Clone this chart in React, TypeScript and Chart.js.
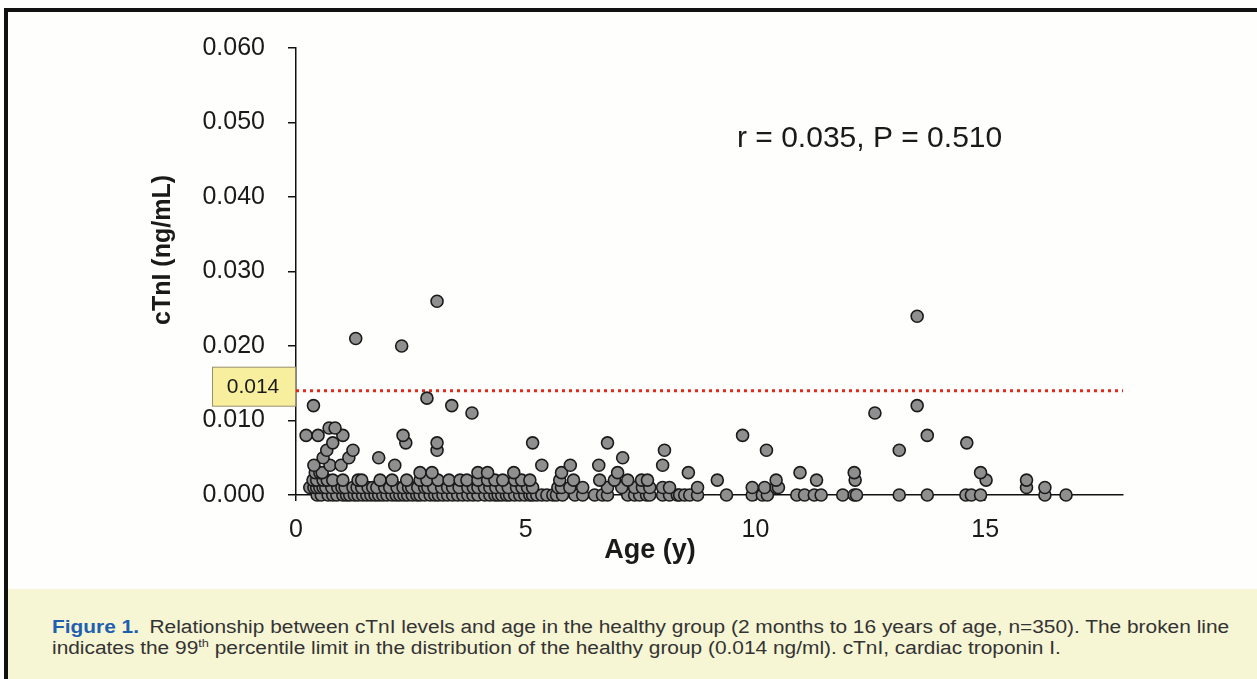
import { useEffect, useRef } from "react";
import { Chart, registerables } from "chart.js";

Chart.register(...registerables);

// ---- Data ----
const xTicks = [0, 5, 10, 15];
const xMax = 18;
const yTicks = [0, 0.01, 0.02, 0.03, 0.04, 0.05, 0.06];
const cutoffValue = 0.014;
const cutoffLabel = "0.014";
const statsText = "r = 0.035, P = 0.510";
const xTitle = "Age (y)";
const yTitle = "cTnI (ng/mL)";

// ages (years) of the children at each cTnI level (ng/mL)
const agesAt0000 = [0.46, 0.55, 0.7, 0.8, 0.89, 1.02, 1.1, 1.17, 1.27, 1.35, 1.45, 1.54, 1.63, 1.72, 1.8, 1.89, 1.98, 2.09, 2.18, 2.26, 2.35, 2.43, 2.53, 2.63, 2.7, 2.8, 2.92, 3.02, 3.1, 3.2, 3.3, 3.41, 3.52, 3.63, 3.74, 3.85, 3.96, 4.11, 4.22, 4.33, 4.4, 4.48, 4.58, 4.65, 4.76, 4.87, 4.98, 5.09, 5.15, 5.24, 5.35, 5.46, 5.59, 5.67, 5.8, 6.07, 6.24, 6.5, 6.67, 6.78, 7.22, 7.37, 7.48, 7.63, 7.7, 7.98, 8.13, 8.3, 8.35, 8.46, 8.57, 8.74, 9.37, 9.93, 10.15, 10.26, 10.9, 11.07, 11.28, 11.43, 11.9, 12.15, 12.2, 13.13, 13.74, 14.58, 14.7, 14.9, 16.3, 16.76];
const agesAt0001 = [0.3, 0.39, 0.45, 0.52, 0.59, 0.65, 0.78, 0.91, 1.0, 1.07, 1.24, 1.33, 1.43, 1.57, 1.67, 1.76, 1.93, 2.04, 2.2, 2.33, 2.45, 2.52, 2.65, 2.8, 2.87, 3.0, 3.17, 3.3, 3.41, 3.55, 3.74, 3.86, 3.96, 4.1, 4.22, 4.35, 4.48, 4.62, 4.8, 4.92, 5.04, 5.15, 5.7, 5.78, 5.96, 6.24, 6.78, 7.09, 7.37, 7.54, 7.7, 7.98, 8.13, 8.74, 9.93, 10.2, 10.45, 10.5, 15.9, 16.3];
const agesAt0002 = [0.37, 0.45, 0.59, 0.68, 0.8, 1.02, 1.35, 1.43, 1.83, 2.09, 2.41, 2.7, 2.85, 3.09, 3.33, 3.57, 3.72, 3.96, 4.17, 4.33, 4.5, 4.76, 4.91, 5.09, 5.74, 6.04, 6.61, 6.93, 7.22, 7.52, 7.65, 9.17, 10.45, 11.33, 12.17, 15.02, 15.9];
const agesAt0003 = [0.42, 0.52, 0.57, 2.7, 2.96, 3.96, 4.17, 4.74, 5.78, 7.0, 8.54, 10.97, 12.15, 14.9];
const agesAt0004 = [0.39, 0.74, 0.98, 2.15, 5.35, 5.97, 6.59, 7.98];
const agesAt0005 = [0.59, 1.15, 1.8, 7.11];
const agesAt0006 = [0.67, 1.24, 3.07, 8.02, 10.24, 13.13];
const agesAt0007 = [0.8, 2.39, 3.07, 5.15, 6.78, 14.6];
const agesAt0008 = [0.22, 0.48, 1.02, 2.33, 9.72, 13.74];
const agesAt0009 = [0.72, 0.85];
const agesAt0011 = [3.83, 12.6];
const agesAt0012 = [0.38, 3.39, 13.52];
const agesAt0013 = [2.85];
const agesAt0020 = [2.3];
const agesAt0021 = [1.3];
const agesAt0024 = [13.52];
const agesAt0026 = [3.07];

const levels: [number, number[]][] = [
  [0.0, agesAt0000],
  [0.001, agesAt0001],
  [0.002, agesAt0002],
  [0.003, agesAt0003],
  [0.004, agesAt0004],
  [0.005, agesAt0005],
  [0.006, agesAt0006],
  [0.007, agesAt0007],
  [0.008, agesAt0008],
  [0.009, agesAt0009],
  [0.011, agesAt0011],
  [0.012, agesAt0012],
  [0.013, agesAt0013],
  [0.02, agesAt0020],
  [0.021, agesAt0021],
  [0.024, agesAt0024],
  [0.026, agesAt0026],
];

const FONT = '"Liberation Sans", Arial, Helvetica, sans-serif';

const overlayPlugin = {
  id: "overlay",
  afterDraw(chart: any) {
    const ctx = chart.ctx as CanvasRenderingContext2D;
    const ys = chart.scales.y;
    const yc = ys.getPixelForValue(cutoffValue);
    ctx.save();
    // 0.014 label box
    ctx.fillStyle = "#f8ef9e";
    ctx.strokeStyle = "#9a9070";
    ctx.lineWidth = 1;
    ctx.fillRect(212.5, yc - 23.5, 83, 39);
    ctx.strokeRect(212.5, yc - 23.5, 83, 39);
    ctx.fillStyle = "#1a1a1a";
    ctx.font = `21px ${FONT}`;
    ctx.textAlign = "center";
    ctx.textBaseline = "middle";
    ctx.fillText(cutoffLabel, 253, yc - 3);
    // statistics
    ctx.font = `30px ${FONT}`;
    ctx.textAlign = "left";
    ctx.fillText(statsText, 737, 139);
    // y title
    ctx.save();
    ctx.translate(163, 250);
    ctx.rotate(-Math.PI / 2);
    ctx.font = `bold 25px ${FONT}`;
    ctx.textAlign = "center";
    ctx.fillText(yTitle, 0, 0);
    ctx.restore();
    // x title
    ctx.font = `bold 27px ${FONT}`;
    ctx.textAlign = "center";
    ctx.fillText(xTitle, 650, 551);
    ctx.restore();
  },
};

export default function App() {
  const ref = useRef<HTMLCanvasElement | null>(null);

  useEffect(() => {
    if (!ref.current) return;
    const points = levels.flatMap(([v, ages]) => ages.map((a) => ({ x: a, y: v })));
    const chart = new Chart(ref.current, {
      type: "scatter",
      data: {
        datasets: [
          {
            label: "cTnI",
            data: points,
            backgroundColor: "#8f8f8f",
            borderColor: "#1a1a1a",
            borderWidth: 1.6,
            pointRadius: 6,
            clip: false,
            order: 0,
          } as any,
          {
            type: "line",
            label: "99th percentile",
            data: [
              { x: 0, y: cutoffValue },
              { x: xMax, y: cutoffValue },
            ],
            borderColor: "#e4281c",
            borderWidth: 3,
            borderDash: [3, 4],
            pointRadius: 0,
            fill: false,
            order: 1,
          } as any,
        ],
      },
      options: {
        animation: false,
        responsive: false,
        layout: { padding: { left: 0, top: 48, right: 134, bottom: 124 } },
        plugins: { legend: { display: false }, tooltip: { enabled: false } },
        scales: {
          x: {
            type: "linear",
            min: 0,
            max: xMax,
            afterBuildTicks: (s: any) => {
              s.ticks = xTicks.map((v) => ({ value: v }));
            },
            afterFit: (s: any) => {
              s.height = 60;
            },
            grid: { drawOnChartArea: false, drawTicks: true, tickLength: 6, color: "#111", lineWidth: 1.5 },
            border: { display: true, color: "#111", width: 1.5 },
            ticks: { font: { size: 25, family: FONT }, color: "#1a1a1a", padding: 14, maxRotation: 0 },
          },
          y: {
            type: "linear",
            min: 0,
            max: 0.06,
            afterBuildTicks: (s: any) => {
              s.ticks = yTicks.map((v) => ({ value: v }));
            },
            afterFit: (s: any) => {
              s.width = 296;
            },
            grid: { drawOnChartArea: false, drawTicks: true, tickLength: 8, color: "#111", lineWidth: 1.5 },
            border: { display: true, color: "#111", width: 1.5 },
            ticks: {
              font: { size: 25, family: FONT },
              color: "#1a1a1a",
              padding: 23,
              callback: (v: any) => Number(v).toFixed(3),
            },
          },
        },
      },
      plugins: [overlayPlugin],
    });
    return () => chart.destroy();
  }, []);

  const lineStyle: React.CSSProperties = {
    position: "absolute",
    left: 44,
    whiteSpace: "nowrap",
    fontSize: 18,
    lineHeight: "20px",
    color: "#333",
    transform: "scaleX(1.16)",
    transformOrigin: "left center",
  };

  return (
    <div style={{ position: "fixed", left: 0, top: 0, width: 1257, height: 679, background: "#fefefc", overflow: "hidden", fontFamily: FONT }}>
      <canvas ref={ref} width={1257} height={679} style={{ position: "absolute", left: 0, top: 0, width: 1257, height: 679 }} />
      {/* frame */}
      <div style={{ position: "absolute", left: 4, top: 8, width: 1260, height: 4, background: "#111" }} />
      <div style={{ position: "absolute", left: 4, top: 8, width: 4, height: 680, background: "#111" }} />
      {/* caption */}
      <div style={{ position: "absolute", left: 8, top: 589, width: 1249, height: 90, background: "#f6f5d4" }}>
        <div style={{ ...lineStyle, top: 28 }}>
          <span style={{ color: "#1f5fb0", fontWeight: "bold" }}>Figure 1.</span>
          <span style={{ marginLeft: 9 }}>Relationship between cTnI levels and age in the healthy group (2 months to 16 years of age, n=350). The broken line</span>
        </div>
        <div style={{ ...lineStyle, top: 49 }}>
          indicates the 99<sup style={{ fontSize: 11, lineHeight: 0 }}>th</sup> percentile limit in the distribution of the healthy group (0.014 ng/ml). cTnI, cardiac troponin I.
        </div>
      </div>
    </div>
  );
}
